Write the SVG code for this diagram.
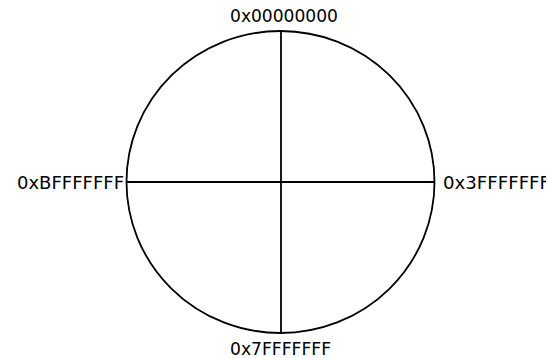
<svg xmlns="http://www.w3.org/2000/svg" width="546" height="358" viewBox="0 0 546 358">
<style>
.ln{stroke:#000;stroke-width:1.8;fill:none}
.lb{font-family:"DejaVu Sans",sans-serif;font-size:17px;fill:#000}
</style>
<rect width="546" height="358" fill="#fff"/>
<g id="circle"><ellipse class="ln" cx="280.5" cy="182" rx="154" ry="151"/></g>
<g id="connectors">
<line class="ln" x1="281" y1="31" x2="281" y2="333"/>
<line class="ln" x1="126" y1="182" x2="435" y2="182"/>
</g>
<g id="top"><text class="lb" x="230" y="22" textLength="108" lengthAdjust="spacingAndGlyphs">0x00000000</text></g>
<g id="left"><text class="lb" x="17" y="189" textLength="107" lengthAdjust="spacingAndGlyphs">0xBFFFFFFF</text></g>
<g id="right"><text class="lb" x="443" y="189" textLength="107" lengthAdjust="spacingAndGlyphs">0x3FFFFFFF</text></g>
<g id="bottom"><text class="lb" x="230" y="355" textLength="101" lengthAdjust="spacingAndGlyphs">0x7FFFFFFF</text></g>
</svg>
